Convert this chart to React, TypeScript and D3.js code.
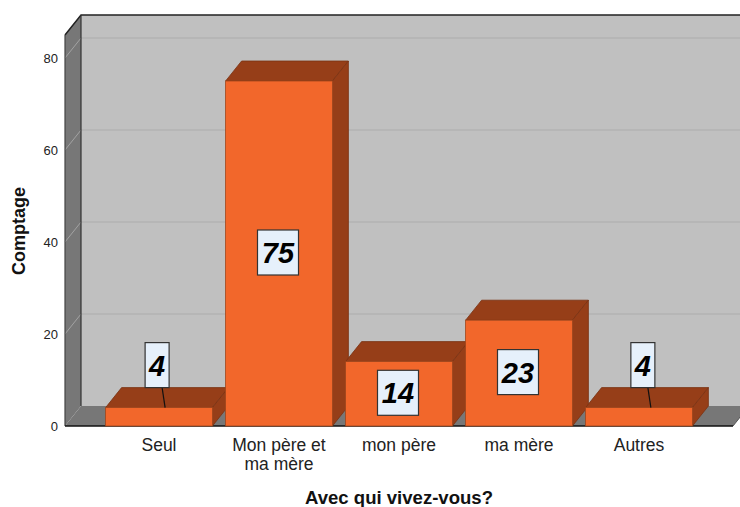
import React from "react";
import * as d3 from "d3";

const categories = ["Seul", "Mon père et|ma mère", "mon père", "ma mère", "Autres"];
const counts = [4, 75, 14, 23, 4];
const yTicks = [0, 20, 40, 60, 80];
const yTitle = "Comptage";
const xTitle = "Avec qui vivez-vous?";

const W = 740;
const H = 507;
const DX = 16;
const DY = -20;
const FONT = "'Liberation Sans', Arial, sans-serif";

export default function App() {
  const left = 65;
  const right = 733;
  const y = d3.scaleLinear().domain([0, 85]).range([426, 35]);
  const x = d3
    .scaleBand<string>()
    .domain(categories)
    .range([99, 699])
    .paddingInner(0.11)
    .paddingOuter(0.055);
  const y0 = y(0);
  const top = y(85);
  const bw = x.bandwidth();
  const pts = (p: number[][]) => p.map((q) => q.join(",")).join(" ");

  return (
    <svg
      width={W}
      height={H}
      style={{ position: "absolute", left: 0, top: 0, background: "#fff" }}
      fontFamily={FONT}
    >
      {/* back wall */}
      <polygon
        points={pts([
          [left + DX, top + DY],
          [right + DX + 20, top + DY],
          [right + DX + 20, y0 + DY],
          [left + DX, y0 + DY],
        ])}
        fill="#c0c0c0"
      />
      {/* left wall */}
      <polygon
        points={pts([
          [left, top],
          [left + DX, top + DY],
          [left + DX, y0 + DY],
          [left, y0],
        ])}
        fill="#777777"
      />
      {/* floor */}
      <polygon
        points={pts([
          [left, y0],
          [left + DX, y0 + DY],
          [right + DX, y0 + DY],
          [right, y0],
        ])}
        fill="#777777"
      />
      {/* gridlines */}
      {yTicks
        .filter((t) => t > 0)
        .map((t) => (
          <g key={t}>
            <line x1={left} y1={y(t)} x2={left + DX} y2={y(t) + DY} stroke="#a3a3a3" strokeWidth={1} />
            <line x1={left + DX} y1={y(t) + DY} x2={W + 20} y2={y(t) + DY} stroke="#acacac" strokeWidth={1.2} />
          </g>
        ))}
      {/* edges */}
      <polyline
        points={pts([
          [left, top],
          [left + DX, top + DY],
          [W + 20, top + DY],
        ])}
        fill="none"
        stroke="#222"
        strokeWidth={1.5}
      />
      <line x1={left + DX} y1={top + DY} x2={left + DX} y2={y0 + DY} stroke="#333" strokeWidth={1.2} />
      <line x1={left} y1={top} x2={left} y2={y0} stroke="#444" strokeWidth={1.2} />
      <line x1={left} y1={y0} x2={right} y2={y0} stroke="#111" strokeWidth={1.5} />
      <line x1={right} y1={y0} x2={right + DX} y2={y0 + DY} stroke="#555" strokeWidth={1} />

      {/* tick labels */}
      {yTicks.map((t) => (
        <text key={t} x={58} y={y(t)} dy="0.35em" textAnchor="end" fontSize={13} fill="#222">
          {t}
        </text>
      ))}

      {/* bars */}
      {categories.map((c, i) => {
        const v = counts[i];
        const x0 = x(c)!;
        const x1 = x0 + bw;
        const yt = y(v);
        return (
          <g key={c}>
            <polygon
              points={pts([
                [x0, yt],
                [x0 + DX, yt + DY],
                [x1 + DX, yt + DY],
                [x1, yt],
              ])}
              fill="#963e18"
              stroke="#7a3213"
              strokeWidth={0.8}
            />
            <polygon
              points={pts([
                [x1, yt],
                [x1 + DX, yt + DY],
                [x1 + DX, y0 + DY],
                [x1, y0],
              ])}
              fill="#963e18"
              stroke="#7a3213"
              strokeWidth={0.8}
            />
            <rect x={x0} y={yt} width={bw} height={y0 - yt} fill="#f2672b" stroke="#a0461c" strokeWidth={0.8} />
          </g>
        );
      })}

      {/* value labels */}
      {categories.map((c, i) => {
        const v = counts[i];
        const cx = x(c)! + bw / 2;
        const yt = y(v);
        const s = String(v);
        const bwid = s.length > 1 ? 41 : 24;
        const bh = 45;
        const inside = y0 - yt > 55;
        let bx = cx - bwid / 2;
        let by: number;
        let leader: React.ReactElement | null = null;
        if (inside) {
          by = (yt + y0) / 2 - bh / 2 - 1;
          bx = cx - bwid / 2 - 1;
        } else {
          by = yt + DY - bh;
          bx = cx - bwid / 2 + (cx - 400) * 0.012 + 1;
          leader = (
            <line x1={bx + bwid / 2 + 5} y1={by + bh} x2={bx + bwid / 2 + 8} y2={yt} stroke="#111" strokeWidth={1.2} />
          );
        }
        return (
          <g key={c}>
            {leader}
            <rect x={bx} y={by} width={bwid} height={bh} fill="#e6f0fb" stroke="#333" strokeWidth={1.2} />
            <text
              x={bx + bwid / 2}
              y={by + bh / 2 + 10.5}
              textAnchor="middle"
              fontSize={29}
              fontWeight="bold"
              fontStyle="italic"
              fill="#000"
            >
              {s}
            </text>
          </g>
        );
      })}

      {/* category labels */}
      {categories.map((c) => {
        const cx = x(c)! + bw / 2;
        const lines = c.split("|");
        return (
          <g key={c}>
            {lines.map((l, j) => (
              <text key={j} x={cx} y={451 + j * 19} textAnchor="middle" fontSize={17.5} fill="#222">
                {l}
              </text>
            ))}
          </g>
        );
      })}

      {/* axis titles */}
      <text x={399} y={504} textAnchor="middle" fontSize={18} fontWeight="bold" fill="#111" textLength={188} lengthAdjust="spacingAndGlyphs">
        {xTitle}
      </text>
      <text
        transform={`translate(25,231) rotate(-90)`}
        textAnchor="middle"
        fontSize={18}
        fontWeight="bold"
        fill="#111"
      >
        {yTitle}
      </text>
    </svg>
  );
}
